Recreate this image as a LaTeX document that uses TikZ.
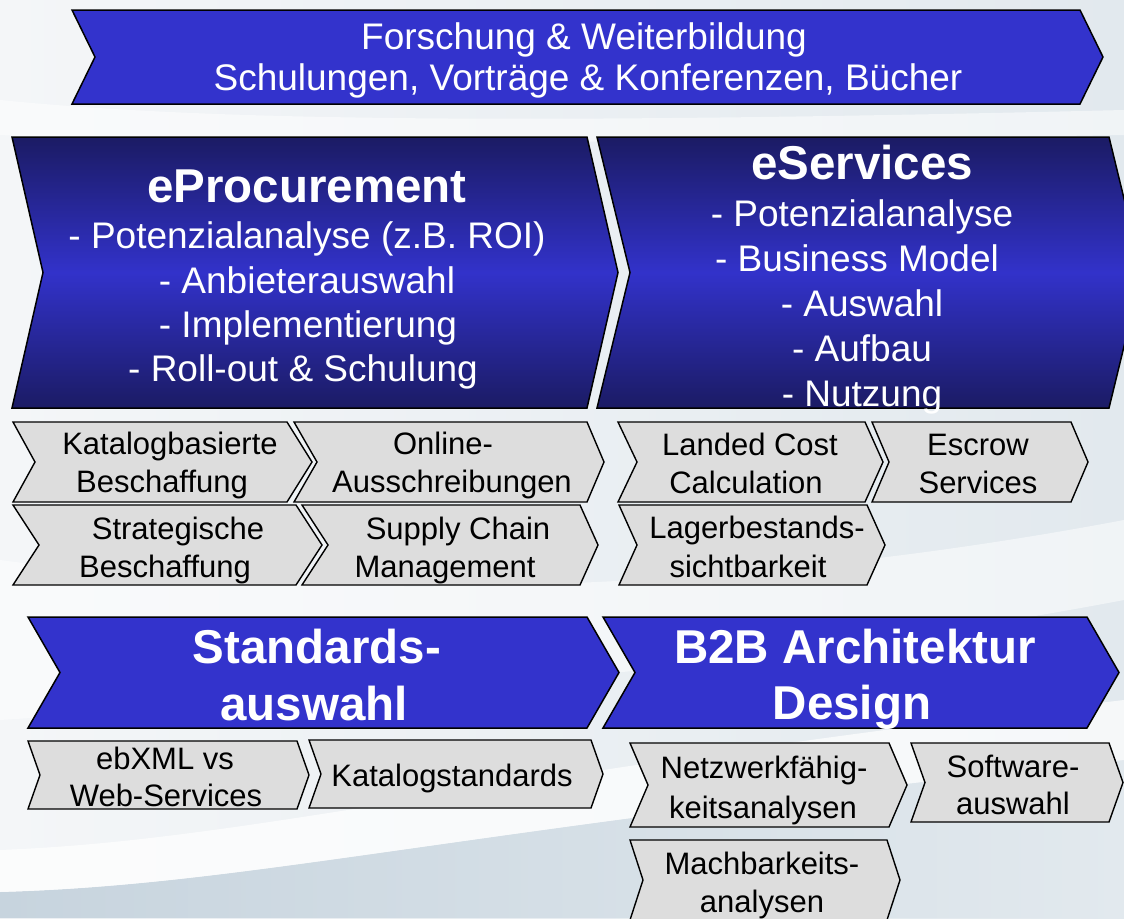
\documentclass[tikz,border=0pt]{standalone}
\usepackage{fontspec}
\setmainfont{Liberation Sans}
\definecolor{blu}{RGB}{51,51,204}
\definecolor{navy}{RGB}{27,27,100}
\definecolor{bluemid}{RGB}{50,50,202}
\definecolor{grayfill}{RGB}{221,221,221}
\definecolor{bgl}{RGB}{244,246,248}
\definecolor{bgr}{RGB}{226,233,238}
\definecolor{bgdark}{RGB}{199,212,222}
% x1, x2, ytop, ybottom, left depth, right depth, style
\newcommand{\chev}[7]{\path[#7] (#1,#3) -- (#2,#3) -- ({#2+#6},{(#3+#4)/2}) -- (#2,#4) -- (#1,#4) -- ({#1+#5},{(#3+#4)/2}) -- cycle;}
\tikzset{
 flatblue/.style={fill=blu, draw=black, line width=1.5pt, line join=miter},
 gradblue/.style={top color=navy, bottom color=navy, middle color=bluemid, draw=black, line width=1.5pt, line join=miter},
 graybox/.style={fill=grayfill, draw=black, line width=1.4pt, line join=miter},
 twb/.style={text=white, inner sep=0pt, anchor=base, font=\fontsize{37}{44}\selectfont},
 ttl/.style={text=white, inner sep=0pt, anchor=base, font=\fontsize{47.5}{56}\selectfont\bfseries},
 tgr/.style={text=black, inner sep=0pt, anchor=base, font=\fontsize{31}{37}\selectfont},
}
\begin{document}
\begin{tikzpicture}[x=1pt,y=-1pt]
\useasboundingbox (0,0) rectangle (1124,918);
\clip (0,0) rectangle (1124,918);
% background
\shade[left color=bgl, right color=bgr] (0,0) rectangle (1124,918);
\shade[left color=bgdark, right color=bgr] (0,918) -- (0,892) .. controls (250,885) and (450,830) .. (1124,760) -- (1124,918) -- cycle;
\fill[white, opacity=0.7] (0,892) .. controls (250,885) and (450,830) .. (1124,760) -- (1124,700) .. controls (450,780) and (250,840) .. (0,850) -- cycle;
\fill[white, opacity=0.5] (0,560) .. controls (300,600) and (700,600) .. (1124,520) -- (1124,600) .. controls (700,680) and (300,700) .. (0,720) -- cycle;
\fill[white, opacity=0.5] (0,100) .. controls (200,120) and (500,125) .. (1124,110) -- (1124,135) .. controls (500,145) and (200,145) .. (0,135) -- cycle;

% top chevron
\chev{72}{1080}{10}{104}{23}{23}{flatblue}
\node[twb] (top1) at (584,49) {Forschung \& Weiterbildung};
\node[twb] (top2) at (588,90) {Schulungen, Vorträge \& Konferenzen, Bücher};

% eProcurement
\chev{12}{587}{137}{408}{31}{31}{gradblue}
\node[ttl] (ep0) at (307,202) {eProcurement};
\node[twb] (ep1) at (307,248) {- Potenzialanalyse (z.B. ROI)};
\node[twb] (ep2) at (307,293) {- Anbieterauswahl};
\node[twb] (ep3) at (308,337) {- Implementierung};
\node[twb] (ep4) at (303,381) {- Roll-out \& Schulung};

% eServices
\chev{597}{1109}{137}{408}{33}{33}{gradblue}
\node[ttl] (es0) at (862,179) {eServices};
\node[twb] (es1) at (862,226) {- Potenzialanalyse};
\node[twb] (es2) at (857,271) {- Business Model};
\node[twb] (es3) at (862,316) {- Auswahl};
\node[twb] (es4) at (862,361) {- Aufbau};
\node[twb] (es5) at (862,406) {- Nutzung};

% gray boxes eProcurement
\chev{13}{287}{422}{502}{22}{25}{graybox}
\node[tgr] (ga1) at (170,454) {Katalogbasierte};
\node[tgr] (ga2) at (162,492) {Beschaffung};
\chev{294}{587}{422}{502}{23}{17}{graybox}
\node[tgr] (gb1) at (443,454) {Online-};
\node[tgr] (gb2) at (452,492) {Ausschreibungen};
\chev{13}{296}{505}{585}{26}{26}{graybox}
\node[tgr] (ge1) at (178,539) {Strategische};
\node[tgr] (ge2) at (165,577) {Beschaffung};
\chev{302}{580}{505}{585}{26}{18}{graybox}
\node[tgr] (gf1) at (458,539) {Supply Chain};
\node[tgr] (gf2) at (445,577) {Management};

% gray boxes eServices
\chev{618}{865}{422}{502}{19}{18}{graybox}
\node[tgr] (gc1) at (750,455) {Landed Cost};
\node[tgr] (gc2) at (746,493) {Calculation};
\chev{872}{1071}{422}{502}{17}{17}{graybox}
\node[tgr] (gd1) at (978,455) {Escrow};
\node[tgr] (gd2) at (978,493) {Services};
\chev{619}{867}{505}{585}{18}{18}{graybox}
\node[tgr] (gg1) at (757,538) {Lagerbestands-};
\node[tgr] (gg2) at (748,577) {sichtbarkeit};

% Standardsauswahl
\chev{28}{587}{617}{728}{32}{32}{flatblue}
\node[ttl] (st1) at (317,663) {Standards-};
\node[ttl] (st2) at (314,720) {auswahl};
\chev{28}{297}{741}{809}{12}{12}{graybox}
\node[tgr] (sa1) at (165,769) {ebXML vs};
\node[tgr] (sa2) at (166,806) {Web-Services};
\chev{309}{591}{740}{808}{12}{12}{graybox}
\node[tgr] (sb1) at (452,786) {Katalogstandards};

% B2B Architektur Design
\chev{603}{1087}{617}{728}{32}{32}{flatblue}
\node[ttl] (bd1) at (855,663) {B2B Architektur};
\node[ttl] (bd2) at (852,719) {Design};
\chev{630}{889}{743}{827}{18}{18}{graybox}
\node[tgr] (ba1) at (764,778) {Netzwerkfähig-};
\node[tgr] (ba2) at (763,818) {keitsanalysen};
\chev{911}{1109}{743}{822}{14}{14}{graybox}
\node[tgr] (bb1) at (1013,777) {Software-};
\node[tgr] (bb2) at (1013,814) {auswahl};
\chev{630}{887}{840}{920}{13}{13}{graybox}
\node[tgr] (bc1) at (762,874) {Machbarkeits-};
\node[tgr] (bc2) at (762,912) {analysen};
\end{tikzpicture}
\end{document}
